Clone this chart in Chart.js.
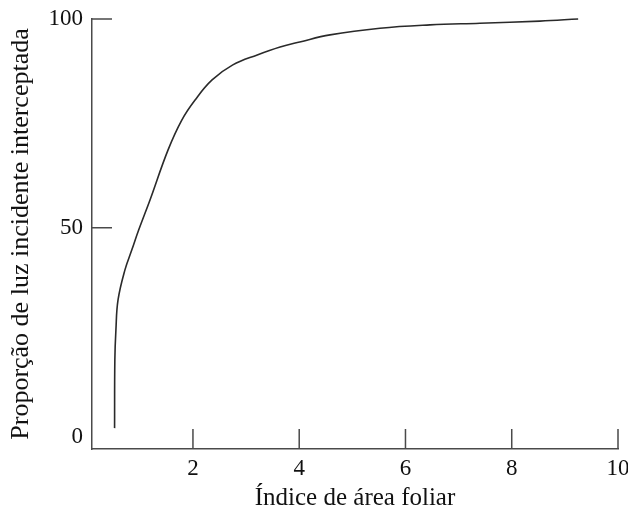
<!DOCTYPE html>
<html>
<head>
<meta charset="utf-8">
<script src="https://cdn.jsdelivr.net/npm/chart.js@4.4.0/dist/chart.umd.min.js"></script>
<style>
  html, body { margin: 0; padding: 0; background: #fff; }
  #wrap { width: 628px; height: 517px; }
</style>
</head>
<body>
<div id="wrap"><canvas id="lightChart" width="628" height="517"></canvas></div>
<script>
// curve: leaf area index vs % of incident light intercepted
const leafIndex = [0.525, 0.53, 0.55, 0.59, 0.72, 0.85, 0.98, 1.19, 1.53, 1.79, 2.04, 2.36, 2.75, 3.21, 3.64, 4.01, 4.58, 5.52, 6.46, 7.40, 8.53, 9.25];
const lightPct  = [2.0,   18.3,  25.5, 32.7, 39.9, 44.7, 49.5, 56.6, 68.6, 75.8, 80.6, 85.4, 89.0, 91.4, 93.3, 94.5, 96.2, 97.8, 98.6, 99.0, 99.5, 100];
const xTicks = [2, 4, 6, 8, 10];
const yTicks = [0, 50, 100];

const axisColor = '#4a4a4a';
const serif = '"Liberation Serif", "DejaVu Serif", serif';

// ticks point inward in the original, so draw them by hand from the scales
const inwardTicks = {
    id: 'inwardTicks',
    afterDraw(chart) {
        const ctx = chart.ctx;
        const xs = chart.scales.x, ys = chart.scales.y;
        const area = chart.chartArea;
        ctx.save();
        ctx.strokeStyle = axisColor;
        ctx.lineWidth = 1.5;
        ctx.beginPath();
        xTicks.forEach(v => {
            const px = xs.getPixelForValue(v);
            ctx.moveTo(px, area.bottom);
            ctx.lineTo(px, area.bottom - 20);
        });
        yTicks.filter(v => v !== 0).forEach(v => {
            const py = ys.getPixelForValue(v);
            ctx.moveTo(area.left, py);
            ctx.lineTo(area.left + 20, py);
        });
        ctx.stroke();
        ctx.restore();
    }
};

const ctx = document.getElementById('lightChart').getContext('2d');
const lightChart = new Chart(ctx, {
    type: 'line',
    data: {
        datasets: [{
            data: leafIndex.map((x, i) => ({ x: x, y: lightPct[i] })),
            borderColor: '#2a2a2a',
            borderWidth: 1.6,
            pointRadius: 0,
            fill: false,
            tension: 0.4,
            clip: false
        }]
    },
    options: {
        responsive: false,
        animation: false,
        layout: { padding: { top: 19, right: 0, left: 0, bottom: 0 } },
        plugins: {
            legend: { display: false },
            tooltip: { enabled: false }
        },
        scales: {
            x: {
                type: 'linear',
                min: 0.1,
                max: 10,
                afterBuildTicks(scale) { scale.ticks = xTicks.map(v => ({ value: v })); },
                afterFit(scale) {
                    scale.height = 68;
                    scale.paddingLeft = 0;
                    scale.paddingRight = 10;
                },
                grid: { display: false, drawTicks: false },
                border: { color: axisColor, width: 1.5 },
                ticks: { color: '#111', padding: 6, font: { family: serif, size: 23 } },
                title: {
                    display: true,
                    text: 'Índice de área foliar',
                    color: '#111',
                    font: { family: serif, size: 25 },
                    padding: { top: 0, bottom: 4 }
                }
            },
            y: {
                type: 'linear',
                min: -3,
                max: 100,
                afterBuildTicks(scale) { scale.ticks = yTicks.map(v => ({ value: v })); },
                afterFit(scale) {
                    scale.width = 92;
                    scale.paddingTop = 0;
                    scale.paddingBottom = 0;
                },
                grid: { display: false, drawTicks: false },
                border: { color: axisColor, width: 1.5 },
                ticks: { color: '#111', padding: 9, font: { family: serif, size: 23 } },
                title: {
                    display: true,
                    text: 'Proporção de luz incidente interceptada',
                    color: '#111',
                    font: { family: serif, size: 26 },
                    padding: { top: 6, bottom: 0 }
                }
            }
        }
    },
    plugins: [inwardTicks]
});
</script>
</body>
</html>
